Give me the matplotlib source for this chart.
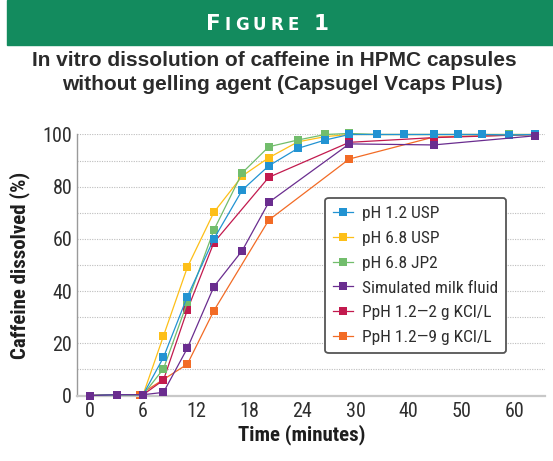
import numpy as np
import matplotlib
matplotlib.use("Agg")
import matplotlib.pyplot as plt
from matplotlib.patches import Rectangle
from matplotlib import font_manager as fm

# ---------------- data ----------------
t_usp = [0, 3, 6, 8.3, 11, 14, 17.2, 20.2, 23.5, 26.6, 29.3, 34.1, 39.1, 44.7, 49.3, 53.9, 58.9, 63.8]
ph12_usp = [0, 0.3, 0.3, 14.6, 37.9, 60.0, 78.7, 88.0, 94.7, 97.9, 100, 100, 100, 100, 100, 100, 99.8, 100]
ph68_usp = [0, 0.3, 0.3, 22.8, 49.1, 70.2, 84.1, 91.1, 97.2, 99.2, 100, 100, 100, 100, 100, 100, 100, 100]
ph68_jp2 = [0, 0.3, 0.3, 10.2, 35.7, 63.4, 85.3, 95.3, 97.9, 100, 100.4, 100, 100, 100, 100, 100, 100, 100]

t_milk = [0, 3, 6, 8.3, 11, 14, 17.2, 20.2, 29.3, 44.7, 63.8]
milk = [0, 0.3, 0.3, 1.2, 18.1, 41.7, 55.5, 74.0, 96.4, 96.0, 99.5]

t_kcl2 = [0, 3, 6, 8.3, 11, 14, 20.2, 29.3, 44.7, 63.8]
kcl2 = [0, 0.3, 0.3, 5.9, 32.8, 58.6, 83.6, 97.0, 98.8, 100]

t_kcl9 = [0, 3, 5.6, 11, 14, 20.2, 29.3, 44.7, 63.8]
kcl9 = [0, 0.3, 0.3, 12.0, 32.5, 67.2, 90.6, 99.0, 100]

labels = ["pH 1.2 USP", "pH 6.8 USP", "pH 6.8 JP2", "Simulated milk fluid",
          "PpH 1.2\u20142 g KCl/L", "PpH 1.2\u20149 g KCl/L"]
xticks = [0, 6, 12, 18, 24, 30, 40, 50, 60]
yticks = [0, 20, 40, 60, 80, 100]

# ---------------- fonts ----------------
avail = {f.name for f in fm.fontManager.ttflist}

def pick(*cands):
    for c in cands:
        if c in avail:
            return c
    return "DejaVu Sans"

COND = pick("Roboto Condensed", "PT Sans Narrow", "Archivo Narrow",
            "Fira Sans Condensed", "Asap Condensed", "Liberation Sans Narrow")
narrow = [COND, "DejaVu Sans"]
TITLE = pick("Liberation Sans", "Arimo", "Roboto")

# ---------------- style ----------------
colors = ["#2293D2", "#FDBF18", "#72BD6C", "#6A2D8F", "#C21A4E", "#F26B25"]
zorders = [5, 3, 4, 6, 2, 1]
txt = "#2e2e2e"

def fwd(t):
    t = np.asarray(t, dtype=float)
    return np.where(t <= 30, t / 6.0, 5.0 + (t - 30) / 10.0)

def inv(u):
    u = np.asarray(u, dtype=float)
    return np.where(u <= 5, u * 6.0, 30.0 + (u - 5) * 10.0)

fig = plt.figure(figsize=(5.53, 4.61), dpi=100)
ax = fig.add_axes([77 / 553, 65.5 / 461, 468 / 553, 261 / 461])

series = [(t_usp, ph12_usp), (t_usp, ph68_usp), (t_usp, ph68_jp2),
          (t_milk, milk), (t_kcl2, kcl2), (t_kcl9, kcl9)]
for (tx, ty), lab, c, z in zip(series, labels, colors, zorders):
    ax.plot(tx, ty, color=c, lw=0.9, marker="s", markersize=5.4,
            markeredgewidth=0, label=lab, zorder=z, clip_on=False)

ax.set_xscale("function", functions=(fwd, inv))
ax.set_xlim(-1.47, 65.7)
ax.set_ylim(0, 100)
ax.set_xticks(xticks)
ax.set_xticklabels([str(v) for v in xticks])
ax.xaxis.set_minor_locator(matplotlib.ticker.NullLocator())
ax.set_yticks(yticks)

for y in range(10, 101, 10):
    ax.axhline(y, color="#bdbdbd", lw=0.8, ls=(0, (1, 1.2)), zorder=0)

for s in ["top", "right"]:
    ax.spines[s].set_visible(False)
ax.spines["left"].set_color("#9a9a9a")
ax.spines["left"].set_linewidth(1.0)
ax.spines["bottom"].set_color("#c8c8c8")
ax.spines["bottom"].set_linewidth(1.6)

ax.tick_params(axis="both", which="both", length=0)
ax.tick_params(axis="x", pad=5)
ax.tick_params(axis="y", pad=3.5)
for lab in ax.get_xticklabels() + ax.get_yticklabels():
    lab.set_family(narrow)
    lab.set_fontsize(14.5)
    lab.set_color(txt)

ax.set_xlabel("Time (minutes)", family=narrow, fontsize=15, fontweight="bold",
              color="#1e1e1e", va="center")
ax.xaxis.set_label_coords(0.481, -0.151)
ax.set_ylabel("Caffeine dissolved (%)", family=narrow, fontsize=15,
              fontweight="bold", color="#1e1e1e", va="center")
ax.yaxis.set_label_coords(-0.122, 0.5)

leg = ax.legend(loc="upper left", bbox_to_anchor=(0.530, 0.757), borderaxespad=0,
                prop={"family": narrow, "size": 12.5}, handlelength=1.15,
                handletextpad=0.55, labelspacing=0.56, borderpad=0.45,
                fancybox=True, framealpha=1, edgecolor="#555555")
leg.get_frame().set_linewidth(1.3)
for t in leg.get_texts():
    t.set_color(txt)

# ---------------- header ----------------
fig.patches.append(Rectangle((7 / 553, 1 - 45 / 461), 1 - 7 / 553, 45 / 461,
                             transform=fig.transFigure, color="#138B5E", zorder=0))

chars = [("F", 15.5), ("I", 12), ("G", 12), ("U", 12), ("R", 12), ("E", 12),
         (" ", 12), ("1", 15.5)]
texts = []
for s, fs in chars:
    texts.append(fig.text(0, 1 - 30 / 461, s, fontsize=fs, fontweight="bold",
                          color="white", family="DejaVu Sans", va="baseline", ha="left"))
fig.canvas.draw()
r = fig.canvas.get_renderer()
widths = []
for tt, (s, fs) in zip(texts, chars):
    if s == " ":
        widths.append(6.0)
    else:
        widths.append(tt.get_window_extent(r).width)
gap = 4.2
total = sum(widths) + gap * (len(widths) - 1)
x0 = 267 - total / 2
for tt, w in zip(texts, widths):
    tt.set_x(x0 / 553)
    x0 += w + gap

fig.text(274 / 553, 1 - 66 / 461, "In vitro dissolution of caffeine in HPMC capsules",
         ha="center", va="baseline", fontsize=15, fontweight="bold",
         family=TITLE, color="#2b2b2b")
fig.text(282 / 553, 1 - 90 / 461, "without gelling agent (Capsugel Vcaps Plus)",
         ha="center", va="baseline", fontsize=15, fontweight="bold",
         family=TITLE, color="#2b2b2b")

fig.savefig("out.png", dpi=100)
